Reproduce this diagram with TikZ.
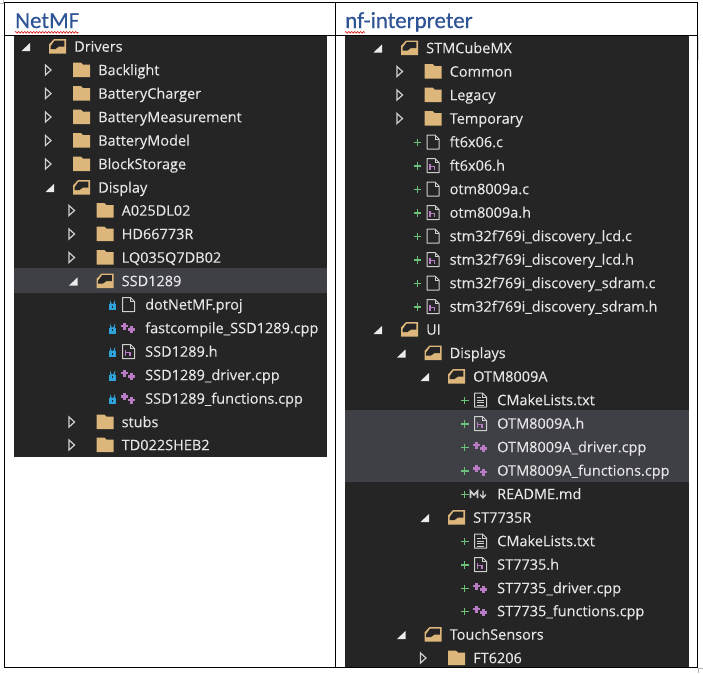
\documentclass[tikz,border=0pt]{standalone}
\usepackage{fontspec}
\setmainfont{Open Sans}
\newfontfamily\headfont{Carlito}
\usetikzlibrary{decorations.pathmorphing}
\definecolor{panel}{HTML}{252526}
\definecolor{hilite}{HTML}{3F3F46}
\definecolor{rowtext}{HTML}{E6E6E6}
\definecolor{foldertan}{HTML}{DCB67A}
\definecolor{headblue}{HTML}{2F5496}
\definecolor{cpppurple}{HTML}{B97CC4}
\definecolor{addgreen}{HTML}{6CC27A}
\definecolor{lockblue}{HTML}{2FA4DC}
\definecolor{iconline}{HTML}{D0D0D0}
\newcounter{rowno}
\tikzset{
  x=1pt,y=-1pt,
  rowlabel/.style={anchor=base west,inner sep=0pt,text=rowtext,font=\fontsize{14.5}{16}\selectfont\addfontfeature{FakeBold=0.12}},
  headlabel/.style={anchor=base west,inner sep=0pt,text=headblue,font=\headfont\fontsize{23}{25}\selectfont\addfontfeature{FakeBold=0.35}},
  tableline/.style={draw=black,line width=1pt},
  squiggle/.style={draw=red!85!black,line width=.6pt,decorate,decoration={zigzag,amplitude=.8pt,segment length=3pt}},
  pics/closedrow/.style={code={\icExpand\icClosed}},
  pics/openrow/.style={code={\icCollapse\icOpen}},
  pics/addfile/.style={code={\icPlus\icFile}},
  pics/addh/.style={code={\icPlus\icHeader}},
  pics/addcpp/.style={code={\icPlus\icCpp}},
  pics/addtxt/.style={code={\icPlus\icText}},
  pics/addmd/.style={code={\icPlus\icMd}},
  pics/lockfile/.style={code={\icLock\icFile}},
  pics/lockh/.style={code={\icLock\icHeader}},
  pics/lockcpp/.style={code={\icLock\icCpp}},
}
\newcommand\icExpand{\draw[iconline,line width=1.2pt,line join=miter] (-52.5,-5)--(-47,0)--(-52.5,5)--cycle;}
\newcommand\icCollapse{\fill[white!92!black] (-44,-3.5)--(-44,4.5)--(-52.5,4.5)--cycle;}
\newcommand\icClosed{\fill[foldertan] (-25,-7.5)--(-17,-7.5)--(-15,-5.5)--(-8,-5.5)--(-8,7)--(-25,7)--cycle;}
\newcommand\icOpen{%
  \fill[foldertan] (-25,7)--(-25,-2)--(-20,-7.5)--(-8,-7.5)--(-8,7)--cycle;
  \fill[panel] (-23.4,-.3)--(-19.3,-6)--(-9.6,-6)--(-9.6,0)--(-15,0)--(-18.5,2.5)--(-23.4,2.5)--cycle;
}
\newcommand\icFileShape{\draw[iconline,line width=1pt,line join=round] (-22.5,-7)--(-14.5,-7)--(-10.5,-3)--(-10.5,7)--(-22.5,7)--cycle;
  \draw[iconline,line width=.8pt] (-14.5,-7)--(-14.5,-3)--(-10.5,-3);}
\newcommand\icFile{\icFileShape}
\newcommand\icHeader{\icFileShape
  \draw[cpppurple,line width=1.2pt] (-19.5,-2)--(-19.5,4) (-19.5,1)--(-15,1)--(-15,4);}
\newcommand\icText{\icFileShape
  \draw[iconline,line width=.9pt] (-20,-2.5)--(-16,-2.5) (-20,.3)--(-13,.3) (-20,2.7)--(-13,2.7) (-20,5)--(-13,5);}
\newcommand\icCpp{\draw[cpppurple,line width=2.3pt]
   (-24,-2)--(-17,-2) (-20.5,-5.5)--(-20.5,1.5) (-17,1.5)--(-10,1.5) (-13.5,-2)--(-13.5,5);}
\newcommand\icMd{\draw[iconline,line width=1.6pt,line join=miter]
   (-26.5,4)--(-26.5,-3)--(-23,1)--(-19.5,-3)--(-19.5,4);
  \draw[iconline,line width=1.2pt] (-14,-3.5)--(-14,3) (-17,0.5)--(-14,4)--(-11,0.5);}
\newcommand\icPlus{\draw[addgreen,line width=1.3pt] (-36,.5)--(-28.5,.5) (-32.2,-3.2)--(-32.2,4.2);}
\newcommand\icLock{\fill[lockblue] (-36,-.5) rectangle (-29,5.5);
  \draw[lockblue,line width=1pt] (-34.5,-.5)--(-34.5,-2) arc[start angle=180,end angle=0,radius=2]--(-30.5,-.5);
  \fill[panel] (-33.2,1.2) rectangle (-31.8,3.2);}
\newcommand\treeitem[4]{%
  \stepcounter{rowno}%
  \path (#1,#2) pic {#3};
  \node[rowlabel] (row\therowno) at (#1,#2+5.2) {#4};
}
\begin{document}
\begin{tikzpicture}
\useasboundingbox (0,0) rectangle (703,673);
\fill[white] (0,0) rectangle (703,673);
% panels
\fill[panel] (14,35) rectangle (327,457);
\fill[panel] (345,35) rectangle (689,667);
\fill[hilite] (14,268) rectangle (327,292.7);
\fill[hilite] (345,410) rectangle (689,482);
% table
\draw[tableline] (4.5,2.5) rectangle (697,667.5);
\draw[tableline] (4.5,35) -- (697,35);
\draw[tableline] (335.5,2.5) -- (335.5,667.5);
% table handles
\draw[black!15,line width=1pt] (698.5,37)--(698.5,60);
\draw[black!30,line width=.7pt] (698,673)--(698,668.5)--(703,668.5);
\draw[black!25,line width=.7pt] (0,3)--(3,3)--(3,0);
% headers
\node[headlabel] (netmf) at (15,28) {NetMF};
\node[headlabel] (nfint) at (345,28) {nf-interpreter};
\draw[squiggle] (15,32.3)--(78.5,32.3);
\draw[squiggle] (345,32.3)--(365,32.3);
% left tree
\treeitem{74}{46.5}{openrow}{Drivers}
\treeitem{98}{70}{closedrow}{Backlight}
\treeitem{98}{93.5}{closedrow}{BatteryCharger}
\treeitem{98}{117}{closedrow}{BatteryMeasurement}
\treeitem{98}{140.5}{closedrow}{BatteryModel}
\treeitem{98}{164}{closedrow}{BlockStorage}
\treeitem{98}{187.5}{openrow}{Display}
\treeitem{121.5}{210.5}{closedrow}{A025DL02}
\treeitem{121.5}{234}{closedrow}{HD66773R}
\treeitem{121.5}{257.5}{closedrow}{LQ035Q7DB02}
\treeitem{121.5}{281}{openrow}{SSD1289}
\treeitem{145}{304.5}{lockfile}{dotNetMF.proj}
\treeitem{145}{328}{lockcpp}{fastcompile\_SSD1289.cpp}
\treeitem{145}{351.5}{lockh}{SSD1289.h}
\treeitem{145}{375}{lockcpp}{SSD1289\_driver.cpp}
\treeitem{145}{398.5}{lockcpp}{SSD1289\_functions.cpp}
\treeitem{121.5}{422}{closedrow}{stubs}
\treeitem{121.5}{445}{closedrow}{TD022SHEB2}
% right tree
\treeitem{426}{48}{openrow}{STMCubeMX}
\treeitem{449.5}{71.5}{closedrow}{Common}
\treeitem{449.5}{95}{closedrow}{Legacy}
\treeitem{449.5}{118.5}{closedrow}{Temporary}
\treeitem{449.5}{142}{addfile}{ft6x06.c}
\treeitem{449.5}{165.5}{addh}{ft6x06.h}
\treeitem{449.5}{189}{addfile}{otm8009a.c}
\treeitem{449.5}{212.5}{addh}{otm8009a.h}
\treeitem{449.5}{236}{addfile}{stm32f769i\_discovery\_lcd.c}
\treeitem{449.5}{259.5}{addh}{stm32f769i\_discovery\_lcd.h}
\treeitem{449.5}{283}{addfile}{stm32f769i\_discovery\_sdram.c}
\treeitem{449.5}{306.5}{addh}{stm32f769i\_discovery\_sdram.h}
\treeitem{426}{329.5}{openrow}{UI}
\treeitem{449.5}{353}{openrow}{Displays}
\treeitem{473}{376.5}{openrow}{OTM8009A}
\treeitem{497}{400}{addtxt}{CMakeLists.txt}
\treeitem{497}{423.5}{addh}{OTM8009A.h}
\treeitem{497}{447}{addcpp}{OTM8009A\_driver.cpp}
\treeitem{497}{470.5}{addcpp}{OTM8009A\_functions.cpp}
\treeitem{497}{494}{addmd}{README.md}
\treeitem{473}{517.5}{openrow}{ST7735R}
\treeitem{497}{541}{addtxt}{CMakeLists.txt}
\treeitem{497}{564.5}{addh}{ST7735.h}
\treeitem{497}{588}{addcpp}{ST7735\_driver.cpp}
\treeitem{497}{611}{addcpp}{ST7735\_functions.cpp}
\treeitem{449.5}{634.5}{openrow}{TouchSensors}
\treeitem{473}{658}{closedrow}{FT6206}
\end{tikzpicture}
\end{document}
